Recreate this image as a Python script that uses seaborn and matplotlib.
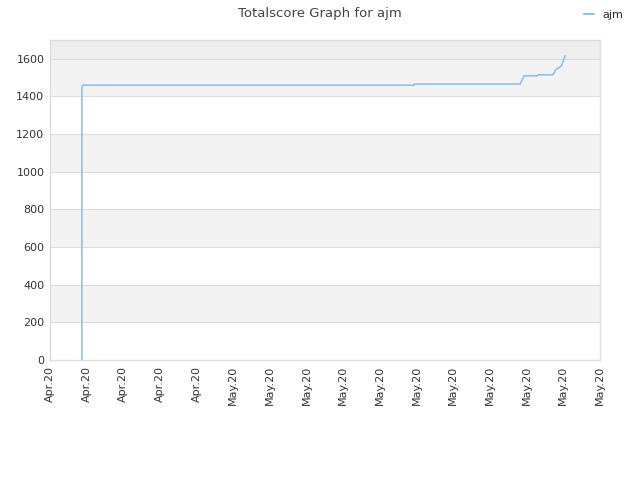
import matplotlib
matplotlib.use("Agg")
import matplotlib.pyplot as plt
import seaborn as sns
import pandas as pd

tick_labels = ["Apr.20"] * 5 + ["May.20"] * 11
x_pos = [0.87, 0.87, 0.90, 9.93, 9.93, 12.82, 12.93, 13.28, 13.31, 13.72, 13.80, 13.85, 13.94, 14.00, 14.05]
score = [0, 1450, 1460, 1460, 1466, 1466, 1510, 1510, 1515, 1515, 1545, 1550, 1560, 1590, 1616]
series_name = "ajm"

df = pd.DataFrame({"x": x_pos, "score": score, "name": series_name})

sns.set_style("white")
plt.rcParams['font.family'] = ['DejaVu Sans']

fig = plt.figure(figsize=(6.4, 4.8), dpi=100)
ax = fig.add_axes([50/640, 120/480, 550/640, 320/480])

# background bands
for lo in range(0, 1600, 200):
    if (lo // 200) % 2 == 1:
        ax.axhspan(lo, lo + 200, color="#f3f3f3", zorder=0, lw=0)
ax.axhspan(1600, 1700, color="#eeeeee", zorder=0, lw=0)
for yv in range(200, 1700, 200):
    ax.axhline(yv, color="#dddddd", lw=0.8, zorder=0.5)

line_color = "#8fc1f0"
sns.lineplot(data=df, x="x", y="score", estimator=None, sort=False, color=line_color,
             lw=1.2, ax=ax, legend=False, zorder=3)

ax.set_xlim(0, 15)
ax.set_ylim(0, 1700)
ax.set_xticks(range(16))
ax.set_xticklabels(tick_labels, rotation=90, fontsize=8, color="#333333")
ax.set_yticks(range(0, 1700, 200))
ax.set_yticklabels([str(v) for v in range(0, 1700, 200)], fontsize=8, color="#333333")
ax.tick_params(length=0, pad=4)
ax.set_xlabel("")
ax.set_ylabel("")
for s in ax.spines.values():
    s.set_color("#dddddd")
    s.set_linewidth(1)

fig.text(0.5, 1 - 13/480, "Totalscore Graph for ajm", ha="center", va="center", fontsize=9.5, color="#444444")

from matplotlib.lines import Line2D
handle = Line2D([0], [0], color=line_color, lw=1.5)
fig.legend([handle], [series_name], loc="center left", bbox_to_anchor=(578/640, 1 - 15/480),
           frameon=False, fontsize=8, handlelength=0.9, handletextpad=0.8, borderpad=0)

fig.savefig("out.png", dpi=100)
